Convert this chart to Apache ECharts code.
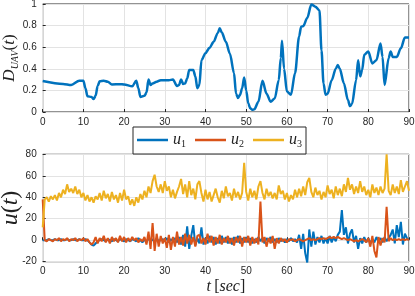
<!DOCTYPE html>
<html><head><meta charset="utf-8">
<script src="https://cdn.jsdelivr.net/npm/echarts@6/dist/echarts.min.js"></script>
<style>html,body{margin:0;padding:0;background:#fff}#c{width:415px;height:296px}</style>
</head><body><div id="c"></div>
<script>
// Top panel: D_UAV(t)
const dTime = [0,5,7,9,10,10.5,11,12,12.5,13,13.5,14,15,16,17,19,20,22,23,23.5,24,25,25.5,26,26.5,27,28,29,31,32,33,33.5,34,34.5,35,35.5,36,37,37.5,38,38.5,39,40,41,42,43,43.5,44,45,46,47,47.5,48,48.5,49,49.5,50,50.5,51,51.5,52,53,54,55,56,57,58,58.5,58.8,59.3,60,61,62,63,63.5,64,65,66,67,68,68.5,69,69.5,70,71,72,72.5,73,74,75,75.5,76,77,77.5,78,78.5,79,80,81,82,83,83.5,84,85,85.5,86,87,88,89,90];
const dValue = [0.287,0.26,0.25,0.29,0.29,0.22,0.145,0.14,0.12,0.15,0.24,0.285,0.29,0.28,0.255,0.258,0.255,0.238,0.29,0.22,0.14,0.15,0.18,0.30,0.25,0.265,0.28,0.295,0.295,0.30,0.24,0.25,0.30,0.26,0.265,0.31,0.39,0.39,0.33,0.22,0.25,0.48,0.545,0.595,0.65,0.73,0.775,0.735,0.65,0.54,0.36,0.17,0.13,0.16,0.22,0.32,0.20,0.08,0.035,0.02,0.025,0.095,0.29,0.17,0.095,0.125,0.295,0.50,0.66,0.40,0.19,0.16,0.36,0.70,0.79,0.795,0.87,0.995,0.975,0.94,0.57,0.265,0.16,0.17,0.295,0.40,0.435,0.40,0.265,0.11,0.055,0.075,0.295,0.48,0.33,0.39,0.53,0.56,0.45,0.48,0.635,0.51,0.25,0.50,0.56,0.51,0.51,0.59,0.69,0.69];

// Bottom panel: u(t), sampled every 0.5 s from t = 0 to 90
const uStep = 0.5;
const u1 = [
0,0,0,1,0,0,1,0,0,1,0,0,1,0,0,1,0,0,1,0,
0,1,0,-2,-4,-5,-3,-1,0,1,0,-1,1,0,-1,1,0,-1,1,0,
-1,1,0,-1,1,0,-1,2,0,-2,1,-2,2,-1,1,-2,2,-1,0,1,
-1,2,-2,1,-1,2,-2,3,-4,5,-6,13,-8,4,14,-5,2,-3,12,-4,
2,-3,4,-2,3,-4,2,-3,4,-2,3,-3,2,-4,3,-2,4,-3,2,-2,
3,-2,2,-3,1,-2,3,-1,2,-3,2,-1,3,-2,1,-2,2,-1,1,-2,
1,-1,2,-1,1,-2,5,-8,6,-12,-21,10,-6,8,-4,3,-2,4,-3,2,
-3,4,-2,3,-1,5,8,28,5,12,-3,6,10,-2,4,-8,2,-3,3,-2,
2,-3,1,-2,3,-1,2,-2,3,-1,2,5,10,-3,14,3,17,-4,6,2,
0];
const u2 = [
38,0,-1,1,0,-1,1,0,2,-1,1,0,2,-1,1,0,2,-1,1,0,
2,-1,1,-2,-4,-2,3,-3,2,-1,4,-2,2,-3,3,-1,2,-2,4,-1,
3,-2,2,-1,3,0,2,-2,1,-1,3,-4,8,-8,16,-10,6,-6,4,-3,
2,-7,5,-9,3,-6,8,-4,3,-5,6,-3,5,-4,3,-6,4,5,-3,2,
-4,6,-2,4,-5,3,-3,5,-4,2,-2,4,-3,2,-5,3,-2,4,-6,3,
-2,4,-5,3,-3,2,-4,36,-2,3,-6,2,-3,4,-8,2,-3,2,-1,1,
-2,1,0,1,-1,0,1,0,-1,0,1,2,0,1,0,1,2,1,2,1,
2,3,2,3,2,3,2,1,2,1,0,1,0,-1,0,-1,0,1,0,-2,
2,-6,4,-10,-16,3,-5,2,-2,31,-1,2,0,1,0,1,0,1,0,1,
0];
const u3 = [
12,38,40,36,41,38,42,37,44,40,47,43,52,45,48,44,50,43,47,40,
44,37,42,36,40,35,41,38,44,37,46,39,43,36,45,38,42,35,44,37,
47,38,41,33,38,32,40,35,43,38,46,40,50,44,55,61,50,45,52,44,
55,46,50,40,47,39,45,50,57,43,52,40,55,42,48,38,52,55,44,36,
47,38,45,36,42,48,40,35,46,39,50,41,44,37,48,40,45,38,44,72,
45,37,48,40,46,38,50,55,44,38,48,41,45,39,44,38,51,43,46,38,
44,36,42,38,47,40,48,41,50,42,54,58,45,40,49,42,46,38,45,40,
51,43,47,39,50,42,48,41,52,45,58,47,52,43,50,44,55,45,50,42,
47,40,52,44,49,42,50,44,48,80,46,42,52,44,50,43,56,45,50,55,
46];

const xTicks = {min: 0, max: 90, interval: 10};
const topY = {min: 0, max: 1, interval: 0.2};
const botY = {min: -20, max: 80, interval: 20};
const names = ['u1','u2','u3'];
const colors = ['#0072BD','#D95319','#EDB120'];

const pair = (xs, ys) => ys.map((v,i) => [xs[i], v]);
const tU = u1.map((_, i) => i * uStep);

const mathFont = 'Liberation Serif';
const tickFont = {color:'#262626', fontSize: 10, fontFamily: 'Liberation Sans'};
function xAxis(gi, withName) {
  return Object.assign({
    type:'value', gridIndex: gi, min: xTicks.min, max: xTicks.max, interval: xTicks.interval,
    axisLine:{show:false}, axisTick:{show:true, inside:true, length:3, lineStyle:{color:'#262626'}},
    axisLabel: Object.assign({margin: 5}, tickFont),
    splitLine:{show:true, lineStyle:{color:'#e3e3e3', width:1}}
  }, withName ? {
    name: '{t|t} {b|[}{t|sec}{b|]}', nameLocation:'middle', nameGap: 17, nameMoveOverlap: false,
    nameTextStyle:{verticalAlign:'top', rich:{t:{fontFamily:mathFont, fontStyle:'italic', fontSize:16, color:'#222'}, b:{fontFamily:mathFont, fontSize:16, color:'#222'}}}
  } : {});
}
function yAxis(gi, r, name, gap) {
  return {
    type:'value', gridIndex: gi, min: r.min, max: r.max, interval: r.interval,
    axisLine:{show:false}, axisTick:{show:true, inside:true, length:3, lineStyle:{color:'#262626'}},
    axisLabel: Object.assign({margin: 6, formatter: v => String(+v.toFixed(1))}, tickFont),
    splitLine:{show:true, lineStyle:{color:'#e3e3e3', width:1}},
    name: name, nameLocation:'middle', nameGap: gap, nameRotate: 90, nameMoveOverlap: false,
    nameTextStyle:{rich:{
      d:{fontFamily:mathFont, fontStyle:'italic', fontSize:17, color:'#222'},
      s:{fontFamily:mathFont, fontStyle:'italic', fontSize:10, color:'#222', verticalAlign:'bottom', lineHeight:22},
      p:{fontFamily:mathFont, fontSize:17, color:'#222'},
      pi:{fontFamily:mathFont, fontStyle:'italic', fontSize:17, color:'#222'},
      U:{fontFamily:mathFont, fontStyle:'italic', fontSize:24, color:'#222'},
      P:{fontFamily:mathFont, fontSize:24, color:'#222'}
    }}
  };
}

const chart = echarts.init(document.getElementById('c'), null, {renderer:'canvas'});
chart.setOption({
  animation: false,
  backgroundColor: '#fff',
  grid: [
    {left: 42.7, right: 6, top: 4, height: 108, show: true, borderColor: '#262626', borderWidth: 1, backgroundColor:'transparent', containLabel:false, outerBoundsMode:'none'},
    {left: 42.7, right: 6, top: 154.3, height: 107.4, show: true, borderColor: '#262626', borderWidth: 1, backgroundColor:'transparent', containLabel:false, outerBoundsMode:'none'}
  ],
  xAxis: [xAxis(0, false), xAxis(1, true)],
  yAxis: [
    yAxis(0, topY, '{d|D}{s|UAV}{p|(}{pi|t}{p|)}', 22),
    yAxis(1, botY, '{U|u}{P|(}{U|t}{P|)}', 20)
  ],
  legend: {
    data: names, left: 133, top: 127, width: 170,
    orient: 'horizontal', icon: 'rect', itemWidth: 31, itemHeight: 2.5, itemGap: 9,
    padding: [5, 4, 5, 4], borderColor: '#262626', borderWidth: 1, backgroundColor: '#fff',
    formatter: n => '{u|u}{s|' + n.slice(1) + '}',
    textStyle: {rich: {
      u:{fontFamily:mathFont, fontStyle:'italic', fontSize:16, color:'#222'},
      s:{fontFamily:mathFont, fontSize:10, color:'#222', verticalAlign:'bottom', lineHeight:18}
    }}
  },
  series: [
    {type:'line', xAxisIndex:0, yAxisIndex:0, data: pair(dTime, dValue), showSymbol:false, smooth:0.3, smoothMonotone:'x',
     lineStyle:{color:colors[0], width:2.5}, itemStyle:{color:colors[0]}, silent:true},
    {name:'u1', type:'line', xAxisIndex:1, yAxisIndex:1, data: pair(tU, u1), showSymbol:false,
     lineStyle:{color:colors[0], width:2}, itemStyle:{color:colors[0]}},
    {name:'u2', type:'line', xAxisIndex:1, yAxisIndex:1, data: pair(tU, u2), showSymbol:false,
     lineStyle:{color:colors[1], width:2}, itemStyle:{color:colors[1]}},
    {name:'u3', type:'line', xAxisIndex:1, yAxisIndex:1, data: pair(tU, u3), showSymbol:false,
     lineStyle:{color:colors[2], width:2}, itemStyle:{color:colors[2]}}
  ]
});
</script></body></html>
